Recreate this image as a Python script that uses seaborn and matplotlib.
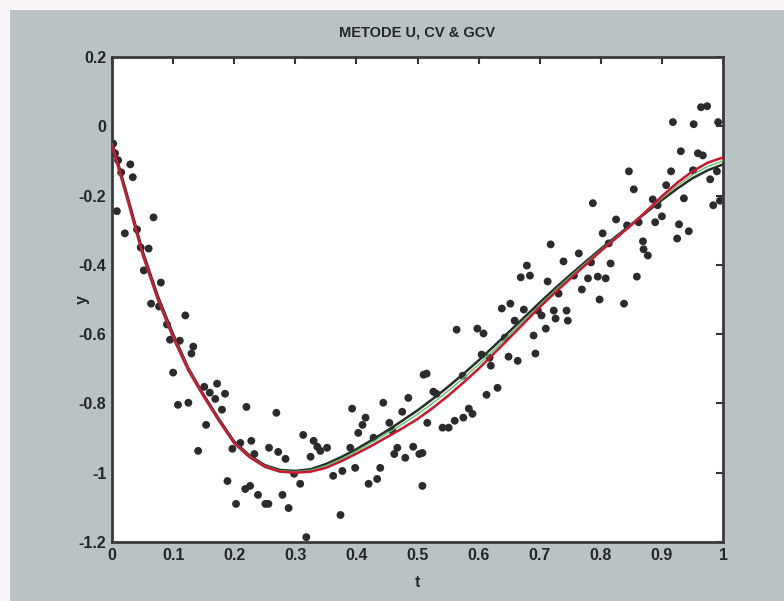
import matplotlib
matplotlib.use("Agg")
import matplotlib.pyplot as plt
from matplotlib.patches import Rectangle
import pandas as pd
import seaborn as sns

# Observed noisy samples
t_obs = [0.002, 0.005, 0.010, 0.015, 0.030, 0.034, 0.008, 0.021, 0.068, 0.041,
         0.047, 0.060, 0.052, 0.080, 0.064, 0.077, 0.090, 0.120, 0.095, 0.111,
         0.133, 0.130, 0.100, 0.151, 0.172, 0.160, 0.169, 0.185, 0.108, 0.125,
         0.180, 0.220, 0.154, 0.141, 0.197, 0.210, 0.228, 0.233, 0.189, 0.218,
         0.226, 0.239, 0.203, 0.251,
         0.269, 0.313, 0.330, 0.336, 0.352, 0.341, 0.257, 0.272, 0.284, 0.325,
         0.393, 0.415, 0.410, 0.403, 0.428, 0.444, 0.485, 0.475, 0.454, 0.459,
         0.390, 0.467, 0.462, 0.480, 0.493, 0.503, 0.510, 0.298, 0.308, 0.362,
         0.377, 0.398, 0.439, 0.434, 0.420, 0.279, 0.256, 0.289, 0.374, 0.318,
         0.508,
         0.718, 0.739, 0.679, 0.669, 0.684, 0.713, 0.652, 0.638, 0.674, 0.659,
         0.697, 0.703, 0.723, 0.726, 0.731, 0.710, 0.690, 0.693, 0.564, 0.598,
         0.608, 0.643, 0.605, 0.618, 0.649, 0.664, 0.620, 0.515, 0.574, 0.526,
         0.531, 0.631, 0.613, 0.584, 0.590, 0.575, 0.561, 0.516, 0.541, 0.551,
         0.508, 0.744, 0.746,
         0.964, 0.974, 0.918, 0.952, 0.992, 0.931, 0.959, 0.967, 0.846, 0.915,
         0.951, 0.990, 0.979, 0.907, 0.854, 0.936, 0.984, 0.787, 0.885, 0.893,
         0.900, 0.889, 0.825, 0.843, 0.862, 0.928, 0.944, 0.925, 0.803, 0.869,
         0.870, 0.877, 0.813, 0.764, 0.784, 0.816, 0.859, 0.795, 0.808, 0.779,
         0.756, 0.769, 0.798, 0.838, 0.995]
y_obs = [-0.050, -0.078, -0.098, -0.133, -0.110, -0.147, -0.245, -0.309, -0.263, -0.298,
         -0.350, -0.353, -0.416, -0.451, -0.512, -0.520, -0.572, -0.546, -0.616, -0.619,
         -0.636, -0.656, -0.711, -0.752, -0.743, -0.769, -0.787, -0.772, -0.804, -0.798,
         -0.818, -0.810, -0.862, -0.937, -0.931, -0.914, -0.908, -0.946, -1.024, -1.047,
         -1.038, -1.064, -1.090, -1.090,
         -0.827, -0.891, -0.908, -0.925, -0.928, -0.937, -0.928, -0.940, -0.960, -0.954,
         -0.815, -0.841, -0.862, -0.885, -0.899, -0.798, -0.784, -0.824, -0.856, -0.879,
         -0.928, -0.928, -0.946, -0.957, -0.925, -0.946, -0.717, -1.003, -1.032, -1.009,
         -0.995, -0.986, -0.986, -1.018, -1.032, -1.064, -1.090, -1.102, -1.122, -1.186,
         -1.038,
         -0.341, -0.390, -0.402, -0.436, -0.431, -0.448, -0.512, -0.526, -0.529, -0.561,
         -0.532, -0.546, -0.532, -0.555, -0.483, -0.584, -0.604, -0.656, -0.587, -0.584,
         -0.598, -0.610, -0.659, -0.668, -0.665, -0.677, -0.691, -0.714, -0.720, -0.766,
         -0.772, -0.755, -0.775, -0.815, -0.830, -0.841, -0.850, -0.856, -0.870, -0.870,
         -0.943, -0.532, -0.561,
         0.055, 0.058, 0.012, 0.006, 0.012, -0.072, -0.078, -0.084, -0.130, -0.130,
         -0.127, -0.130, -0.153, -0.170, -0.182, -0.208, -0.228, -0.222, -0.211, -0.228,
         -0.260, -0.277, -0.269, -0.286, -0.277, -0.283, -0.303, -0.324, -0.309, -0.332,
         -0.355, -0.373, -0.338, -0.367, -0.393, -0.396, -0.434, -0.434, -0.439, -0.439,
         -0.431, -0.471, -0.500, -0.512, -0.215]

# Smoothing-spline estimates (U, CV and GCV choices of the smoothing parameter),
# evaluated on a grid with step 0.025
t_fit = [round(i * 0.025, 3) for i in range(41)]
y_u = [-0.055, -0.210, -0.370, -0.500, -0.610, -0.705, -0.780, -0.850, -0.915, -0.955,
       -0.983, -0.997, -1.000, -0.997, -0.986, -0.967, -0.945, -0.922, -0.897, -0.872,
       -0.845, -0.813, -0.778, -0.740, -0.700, -0.656, -0.612, -0.567, -0.522, -0.480,
       -0.440, -0.400, -0.360, -0.323, -0.285, -0.244, -0.202, -0.163, -0.130, -0.105,
       -0.090]
y_cv = [-0.045, -0.200, -0.360, -0.490, -0.600, -0.698, -0.775, -0.845, -0.910, -0.950,
        -0.978, -0.992, -0.995, -0.990, -0.975, -0.955, -0.932, -0.906, -0.879, -0.850,
        -0.820, -0.787, -0.752, -0.715, -0.676, -0.635, -0.593, -0.551, -0.509, -0.468,
        -0.429, -0.391, -0.354, -0.318, -0.283, -0.248, -0.213, -0.180, -0.150, -0.127,
        -0.110]
y_gcv = [-0.050, -0.205, -0.365, -0.495, -0.605, -0.700, -0.777, -0.847, -0.912, -0.952,
         -0.980, -0.994, -0.997, -0.993, -0.980, -0.961, -0.938, -0.913, -0.887, -0.860,
         -0.831, -0.799, -0.764, -0.727, -0.688, -0.646, -0.603, -0.560, -0.516, -0.474,
         -0.434, -0.395, -0.357, -0.320, -0.284, -0.246, -0.208, -0.171, -0.140, -0.116,
         -0.100]

x_ticks = [0, 0.1, 0.2, 0.3, 0.4, 0.5, 0.6, 0.7, 0.8, 0.9, 1]
x_ticklabels = ["0", "0.1", "0.2", "0.3", "0.4", "0.5", "0.6", "0.7", "0.8", "0.9", "1"]
y_ticks = [0.2, 0, -0.2, -0.4, -0.6, -0.8, -1, -1.2]
y_ticklabels = ["0.2", "0", "-0.2", "-0.4", "-0.6", "-0.8", "-1", "-1.2"]

sns.set_theme(style="white")
plt.rcParams["font.family"] = ["Liberation Sans Narrow", "Liberation Sans", "DejaVu Sans"]
plt.rcParams["font.weight"] = "bold"

fig = plt.figure(figsize=(7.84, 6.01), dpi=100, facecolor="#fbf6f9")
# grey window panel behind the axes
fig.patches.append(Rectangle((10 / 784, 0), 1 - 10 / 784, 1 - 10 / 601,
                             transform=fig.transFigure, facecolor="#b9c3c6",
                             edgecolor="none", zorder=-10))
ax = fig.add_axes([112 / 784, 59 / 601, 611 / 784, 485 / 601])
ax.set_zorder(1)
ax.set_facecolor("white")

obs = pd.DataFrame({"t": t_obs, "y": y_obs})
fits = pd.DataFrame({"t": t_fit, "U": y_u, "CV": y_cv, "GCV": y_gcv})

sns.scatterplot(data=obs, x="t", y="y", ax=ax, s=32, color="#2b2b2b",
                edgecolor="none", zorder=2)
sns.lineplot(data=fits, x="t", y="CV", ax=ax, color="#26302a", lw=1.8, zorder=3)
sns.lineplot(data=fits, x="t", y="GCV", ax=ax, color="#5cbf6a", lw=1.0, zorder=4)
sns.lineplot(data=fits, x="t", y="U", ax=ax, color="#cc1530", lw=1.8, zorder=5)

ax.set_xlim(0, 1)
ax.set_ylim(-1.2, 0.2)
ax.set_xticks(x_ticks)
ax.set_xticklabels(x_ticklabels)
ax.set_yticks(y_ticks)
ax.set_yticklabels(y_ticklabels)
ax.tick_params(direction="in", length=5, width=1.5, color="#333333",
               top=True, right=True, labelsize=11.5, labelcolor="#262626", pad=4)
for lab in ax.get_xticklabels() + ax.get_yticklabels():
    lab.set_fontweight("bold")
for sp in ax.spines.values():
    sp.set_visible(True)
    sp.set_color("#3a3a3a")
    sp.set_linewidth(2.0)

ax.set_title("METODE U, CV & GCV", fontsize=10.5, fontweight="bold",
             color="#262626", pad=15)
ax.set_xlabel("t", fontsize=11.5, fontweight="bold", color="#262626")
ax.set_ylabel("y", fontsize=11.5, fontweight="bold", color="#262626")
ax.xaxis.set_label_coords(0.5, -0.068)
ax.yaxis.set_label_coords(-0.036, 0.5)

fig.savefig("out.png", dpi=100, facecolor=fig.get_facecolor())
